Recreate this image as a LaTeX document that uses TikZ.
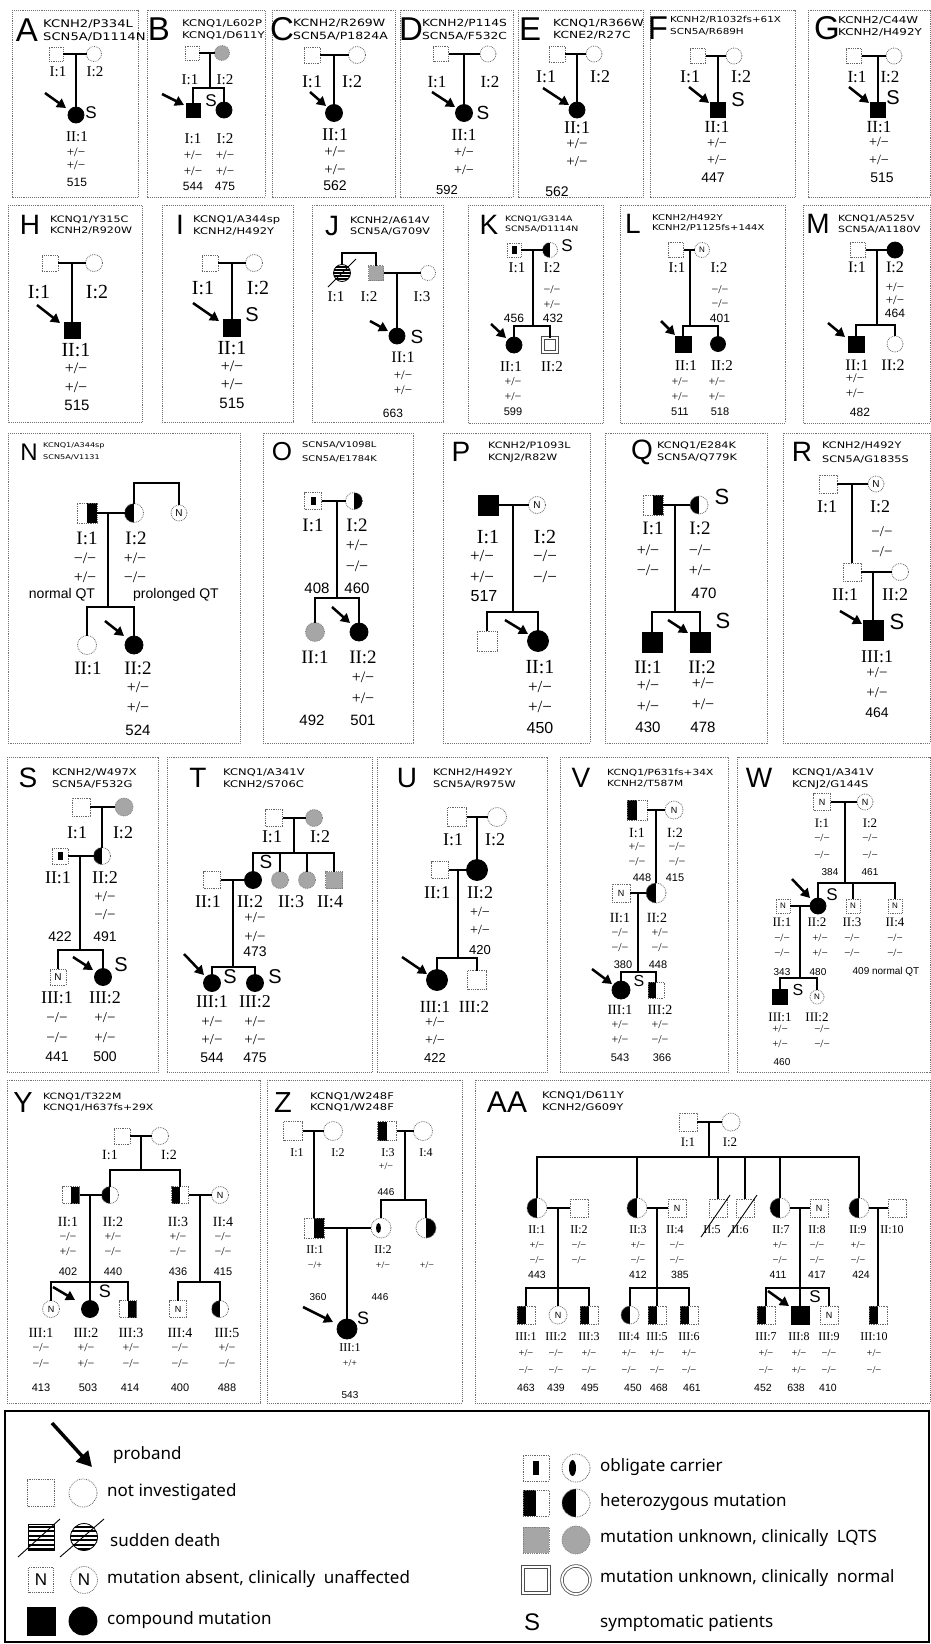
\documentclass[tikz,border=0pt]{standalone}
\usepackage{graphicx}
\usepackage{fontspec}
\setmainfont{Liberation Serif}
\newfontfamily\sfn{Liberation Sans}
\newfontfamily\gfn{DejaVu Sans}
\newfontfamily\lgf{Noto Sans}
\usetikzlibrary{arrows.meta,calc}
\newcount\txc
\newcommand\gsc[1]{\scalebox{1.25}[1]{#1}}
\newcommand\pTx[5]{\global\advance\txc by 1\relax\node[inner sep=0pt,font=#3\fontsize{#4}{#4}\selectfont] (t\the\txc) at (#1,#2) {#5};}
\newcommand\pLb[4]{\pTx{#1}{#2}{\rmfamily}{#3}{#4}}
\newcommand\pNb[4]{\pTx{#1}{#2}{\sfn}{#3}{#4}}
\newcommand\pLt[4]{\node[inner sep=0pt,font=\sfn\fontsize{#3}{#3}\selectfont] (L#4) at (#1,#2) {#4};}
\newcommand\pGn[6]{\global\advance\txc by 1\relax\node[anchor=base west,inner sep=0pt,font=\gfn\fontsize{#3}{#3}\selectfont] (t\the\txc) at (#1,#2-#4/2+0.36*#3) {\gsc{#5}};\global\advance\txc by 1\relax\node[anchor=base west,inner sep=0pt,font=\gfn\fontsize{#3}{#3}\selectfont] (t\the\txc) at (#1,#2+#4/2+0.36*#3) {\gsc{#6}};}
\newcommand\pLg[3]{\global\advance\txc by 1\relax\node[anchor=west,inner sep=0pt,font=\lgf\fontsize{17}{17}\selectfont] (t\the\txc) at (#1,#2) {#3};}
\newcommand\pArr[5]{\draw[prob] (#1) ++(#2,#3) -- ++(#4,#5);}
\newcommand\gPM{+/−}\newcommand\gMM{−/−}\newcommand\gMP{−/+}\newcommand\gPP{+/+}
\tikzset{
  lnk/.style={line width=1.6pt},
  bx/.style={draw=black!55, densely dotted, line width=0.9pt},
  sqr/.style={rectangle, minimum size=#1, inner sep=0pt, outer sep=0pt},
  cir/.style={circle, minimum size=#1, inner sep=0pt, outer sep=0pt},
  ni/.style={draw=black!60, densely dotted, line width=0.8pt},
  cmpd/.style={draw=black, fill=black, line width=0.8pt},
  lqt/.style={draw=black!50, densely dotted, line width=0.8pt, fill=black!35},
  hL/.style={ni, path picture={\fill[black] (path picture bounding box.south west) rectangle (path picture bounding box.north);}},
  hR/.style={ni, path picture={\fill[black] (path picture bounding box.south) rectangle (path picture bounding box.north east);}},
  obS/.style={ni, path picture={\fill[black] ([xshift=-2.5pt,yshift=-4pt]path picture bounding box.center) rectangle ([xshift=2.5pt,yshift=4pt]path picture bounding box.center);}},
  obSb/.style={ni, path picture={\fill[black] ([xshift=-3pt,yshift=-7pt]path picture bounding box.center) rectangle ([xshift=3pt,yshift=7pt]path picture bounding box.center);}},
  obC/.style={ni, path picture={\fill[black] ([xshift=-2.5pt]path picture bounding box.center) ellipse [x radius=2.5pt, y radius=5pt];}},
  obCb/.style={ni, path picture={\fill[black] ([xshift=-3.5pt]path picture bounding box.center) ellipse [x radius=3.5pt, y radius=8pt];}},
  nn/.style={ni, font=\sfn\fontsize{#1}{#1}\selectfont},
  nn/.default=10,
  dbl/.style={draw=black!70, line width=0.8pt, double=white, double distance=1.8pt},
  sdeath/.style={draw=black, line width=0.8pt, path picture={\foreach \k in {-9,-6,...,9}{\draw[line width=1.1pt] ([yshift=\k pt]path picture bounding box.west) -- ([yshift=\k pt]path picture bounding box.east);}}},
  sdeathb/.style={draw=black, line width=0.8pt, path picture={\foreach \k in {-12,-7.5,...,12}{\draw[line width=2pt] ([yshift=\k pt]path picture bounding box.west) -- ([yshift=\k pt]path picture bounding box.east);}}},
  prob/.style={line width=2.5pt, -{Triangle[length=9pt,width=10pt]}},
}
\begin{document}
\begin{tikzpicture}[x=1pt,y=-1pt]
\useasboundingbox (0,0) rectangle (931,1644);
\fill[white] (0,0) rectangle (931,1644);
% ================= A
\draw[bx] (12,10) rectangle (138,197);
\pLt{27}{30}{33}{A}
\pGn{43}{30}{10.5}{12.5}{KCNH2/P334L}{SCN5A/D1114N}
\node[sqr=14,ni] (A1) at (56,54) {};
\node[cir=15,ni] (A2) at (94,54) {};
\coordinate (Am) at (76,54);
\node[cir=16,cmpd] (A3) at (76,115) {};
\draw[lnk] (A1) -- (A2); \draw[lnk] (Am) -- (A3);
\pArr{A3}{-31}{-22}{21}{15}
\pNb{91}{113}{17}{S}
\pLb{58}{72}{15}{I:1}\pLb{95}{72}{15}{I:2}\pLb{77}{137}{15}{II:1}
\pLb{76}{152}{13}{\gPM}\pLb{76}{165}{13}{\gPM}\pNb{77}{182}{12}{515}
% ================= B
\draw[bx] (147,10) rectangle (265,197);
\pLt{159}{29}{33}{B}
\pGn{182}{29}{9.3}{11.5}{KCNQ1/L602P}{KCNQ1/D611Y}
\node[sqr=14,ni] (B1) at (192,53) {};
\node[cir=15,lqt] (B2) at (222,53) {};
\coordinate (Bm) at (210,53); \coordinate (Bb) at (210,88);
\node[sqr=14,cmpd] (B3) at (193,110) {};
\node[cir=16,cmpd] (B4) at (224,110) {};
\draw[lnk] (B1) -- (B2); \draw[lnk] (Bm) -- (Bb);
\draw[lnk] (B3) -- (B3|-Bb) -- (B4|-Bb) -- (B4);
\pArr{B3}{-31}{-16}{22}{11}
\pNb{211}{101}{17}{S}
\pLb{190}{80}{15}{I:1}\pLb{225}{80}{15}{I:2}
\pLb{193}{139}{15}{I:1}\pLb{225}{139}{15}{I:2}
\pLb{193}{155}{13}{\gPM}\pLb{193}{171}{13}{\gPM}\pLb{225}{155}{13}{\gPM}\pLb{225}{171}{13}{\gPM}
\pNb{193}{186}{12}{544}\pNb{225}{186}{12}{475}
% ================= C
\draw[bx] (272,10) rectangle (395,197);
\pLt{282}{29}{33}{C}
\pGn{293}{29}{10}{13}{KCNH2/R269W}{SCN5A/P1824A}
\node[sqr=16,ni] (C1) at (312,55) {};
\node[cir=17,ni] (C2) at (357,55) {};
\coordinate (Cm) at (334,55);
\node[cir=17,cmpd] (C3) at (334,113) {};
\draw[lnk] (C1) -- (C2); \draw[lnk] (Cm) -- (C3);
\pArr{C3}{-24}{-21}{16}{14}
\pLb{312}{82}{18}{I:1}\pLb{352}{82}{18}{I:2}\pLb{335}{135}{18}{II:1}
\pLb{335}{152}{15}{\gPM}\pLb{335}{170}{15}{\gPM}\pNb{335}{186}{14}{562}
% ================= D
\draw[bx] (400,10) rectangle (513,197);
\pLt{411}{29}{33}{D}
\pGn{422}{29}{9.8}{13}{KCNH2/P114S}{SCN5A/F532C}
\node[sqr=15,ni] (D1) at (441,54) {};
\node[cir=16,ni] (D2) at (488,54) {};
\coordinate (Dm) at (464,54);
\node[cir=17,cmpd] (D3) at (464,113) {};
\draw[lnk] (D1) -- (D2); \draw[lnk] (Dm) -- (D3);
\pArr{D3}{-32}{-21}{23}{15}
\pNb{483}{113}{19}{S}
\pLb{437}{82}{17}{I:1}\pLb{490}{82}{17}{I:2}\pLb{464}{135}{17}{II:1}
\pLb{464}{152}{14}{\gPM}\pLb{464}{170}{14}{\gPM}\pNb{447}{190}{13}{592}
% ================= E
\draw[bx] (518,10) rectangle (643,197);
\pLt{530}{29}{33}{E}
\pGn{553}{29}{9.8}{12.5}{KCNQ1/R366W}{KCNE2/R27C}
\node[sqr=16,ni] (E1) at (557,54) {};
\node[cir=16,ni] (E2) at (594,54) {};
\coordinate (Em) at (577,54);
\node[cir=16,cmpd] (E3) at (577,110) {};
\draw[lnk] (E1) -- (E2); \draw[lnk] (Em) -- (E3);
\pArr{E3}{-34}{-22}{26}{17}
\pLb{546}{77}{18}{I:1}\pLb{600}{77}{18}{I:2}\pLb{577}{128}{18}{II:1}
\pLb{577}{144}{15}{\gPM}\pLb{577}{162}{15}{\gPM}\pNb{557}{192}{14}{562}
% ================= F
\draw[bx] (650,10) rectangle (795,197);
\pLt{658}{28}{33}{F}
\pGn{670}{26}{8.3}{12}{KCNH2/R1032fs+61X}{SCN5A/R689H}
\node[sqr=15,ni] (F1) at (698,56) {};
\node[cir=16,ni] (F2) at (734,56) {};
\coordinate (Fm) at (718,56);
\node[sqr=15,cmpd] (F3) at (718,110) {};
\draw[lnk] (F1) -- (F2); \draw[lnk] (Fm) -- (F3);
\pArr{F3}{-29}{-23}{20}{16}
\pNb{738}{100}{20}{S}
\pLb{690}{77}{18}{I:1}\pLb{741}{77}{18}{I:2}\pLb{717}{127}{17}{II:1}
\pLb{717}{143}{14}{\gPM}\pLb{717}{160}{14}{\gPM}\pNb{713}{178}{14}{447}
% ================= G
\draw[bx] (808,10) rectangle (930,197);
\pLt{827}{28}{33}{G}
\pGn{838}{26}{9.5}{12}{KCNH2/C44W}{KCNH2/H492Y}
\node[sqr=15,ni] (G1) at (854,56) {};
\node[cir=16,ni] (G2) at (894,56) {};
\coordinate (Gm) at (878,56);
\node[sqr=15,cmpd] (G3) at (878,110) {};
\draw[lnk] (G1) -- (G2); \draw[lnk] (Gm) -- (G3);
\pArr{G3}{-29}{-23}{20}{16}
\pNb{893}{98}{20}{S}
\pLb{857}{77}{17}{I:1}\pLb{890}{77}{17}{I:2}\pLb{879}{127}{17}{II:1}
\pLb{879}{142}{14}{\gPM}\pLb{879}{160}{14}{\gPM}\pNb{882}{178}{14}{515}
% ================= H
\draw[bx] (8,205) rectangle (142,422);
\pLt{30}{225}{28}{H}
\pGn{50}{225}{8.9}{11.2}{KCNQ1/Y315C}{KCNH2/R920W}
\node[sqr=16,ni] (H1) at (50,263) {};
\node[cir=17,ni] (H2) at (94,263) {};
\coordinate (Hm) at (72,263);
\node[sqr=16,cmpd] (H3) at (72,330) {};
\draw[lnk] (H1) -- (H2); \draw[lnk] (Hm) -- (H3);
\pArr{H3}{-35}{-25}{23}{18}
\pLb{39}{292}{20}{I:1}\pLb{97}{292}{20}{I:2}\pLb{76}{350}{20}{II:1}
\pLb{76}{368}{16}{\gPM}\pLb{76}{387}{16}{\gPM}\pNb{77}{405}{15}{515}
% ================= I
\draw[bx] (162,205) rectangle (293,422);
\pLt{180}{225}{28}{I}
\pGn{193}{225}{9.2}{11.5}{KCNQ1/A344sp}{KCNH2/H492Y}
\node[sqr=16,ni] (I1) at (210,263) {};
\node[cir=17,ni] (I2) at (254,263) {};
\coordinate (Im) at (232,263);
\node[sqr=17,cmpd] (I3) at (232,328) {};
\draw[lnk] (I1) -- (I2); \draw[lnk] (Im) -- (I3);
\pArr{I3}{-39}{-25}{26}{18}
\pNb{252}{315}{20}{S}
\pLb{203}{288}{20}{I:1}\pLb{258}{288}{20}{I:2}\pLb{232}{348}{20}{II:1}
\pLb{232}{366}{16}{\gPM}\pLb{232}{384}{16}{\gPM}\pNb{232}{403}{15}{515}
% ================= J
\draw[bx] (312,205) rectangle (443,422);
\pLt{332}{226}{28}{J}
\pGn{350}{226}{9}{11.2}{KCNH2/A614V}{SCN5A/G709V}
\node[cir=17,sdeath] (J1) at (342,273) {};
\node[sqr=15,lqt] (J2) at (376,273) {};
\node[cir=15,ni] (J3) at (428,273) {};
\coordinate (Jt) at (360,253);
\draw[lnk] (J1) -- (J1|-Jt) -- (J2|-Jt) -- (J2);
\draw[lnk] (J2) -- (J3);
\coordinate (Jm) at (397,273);
\node[cir=16,cmpd] (J4) at (397,336) {};
\draw[lnk] (Jm) -- (J4);
\draw[line width=0.8pt] (J1) ++(-14,14) -- ++(28,-28);
\pArr{J4}{-27}{-15}{18}{10}
\pNb{417}{337}{19}{S}
\pLb{336}{297}{15}{I:1}\pLb{369}{297}{15}{I:2}\pLb{422}{297}{15}{I:3}\pLb{403}{357}{16}{II:1}
\pLb{403}{375}{13}{\gPM}\pLb{403}{390}{13}{\gPM}\pNb{393}{413}{12}{663}
% ================= K
\draw[bx] (468,205) rectangle (603,423);
\pLt{489}{225}{28}{K}
\pGn{505}{224}{7.5}{10}{KCNQ1/G314A}{SCN5A/D1114N}
\node[sqr=14,obS] (K1) at (514,250) {};
\node[cir=15,hL] (K2) at (550,250) {};
\coordinate (Km) at (533,250); \coordinate (Kb) at (533,326);
\node[cir=16,cmpd] (K3) at (514,345) {};
\node[sqr=14,dbl] (K4) at (550,345) {};
\draw[lnk] (K1) -- (K2); \draw[lnk] (Km) -- (Kb);
\draw[lnk] (K3) -- (K3|-Kb) -- (K4|-Kb) -- (K4);
\pArr{K3}{-23}{-21}{15}{14}
\pNb{567}{246}{17}{S}
\pLb{517}{268}{15}{I:1}\pLb{552}{268}{15}{I:2}
\pLb{552}{290}{12}{\gMM}\pLb{552}{305}{12}{\gPM}
\pNb{514}{318}{12}{456}\pNb{553}{318}{12}{432}
\pLb{511}{367}{15}{II:1}\pLb{552}{367}{15}{II:2}
\pLb{513}{382}{12}{\gPM}\pLb{513}{397}{12}{\gPM}\pNb{513}{412}{11}{599}
% ================= L
\draw[bx] (620,205) rectangle (785,423);
\pLt{633}{224}{28}{L}
\pGn{652}{223}{8}{10.2}{KCNH2/H492Y}{KCNH2/P1125fs+144X}
\node[sqr=15,ni] (L1) at (676,250) {};
\node[cir=15,nn=8] (L2) at (702,250) {N};
\coordinate (Lm) at (690,250); \coordinate (Lb) at (690,326);
\node[sqr=16,cmpd] (L3) at (683,344) {};
\node[cir=15,cmpd] (L4) at (718,344) {};
\draw[lnk] (L1) -- (L2); \draw[lnk] (Lm) -- (Lb);
\draw[lnk] (L3) -- (L3|-Lb) -- (L4|-Lb) -- (L4);
\pArr{L3}{-22}{-23}{14}{14}
\pLb{677}{268}{15}{I:1}\pLb{719}{268}{15}{I:2}
\pLb{720}{290}{12}{\gMM}\pLb{720}{304}{12}{\gMM}\pNb{720}{318}{12}{401}
\pLb{686}{366}{15}{II:1}\pLb{722}{366}{15}{II:2}
\pLb{680}{382}{12}{\gPM}\pLb{680}{397}{12}{\gPM}\pLb{717}{382}{12}{\gPM}\pLb{717}{397}{12}{\gPM}
\pNb{680}{412}{11}{511}\pNb{720}{412}{11}{518}
% ================= M
\draw[bx] (803,205) rectangle (930,423);
\pLt{818}{224}{28}{M}
\pGn{838}{224}{8.6}{10.8}{KCNQ1/A525V}{SCN5A/A1180V}
\node[sqr=15,ni] (M1) at (858,250) {};
\node[cir=16,cmpd] (M2) at (895,250) {};
\coordinate (Mm) at (877,250); \coordinate (Mb) at (877,325);
\node[sqr=16,cmpd] (M3) at (856,344) {};
\node[cir=16,ni] (M4) at (895,344) {};
\draw[lnk] (M1) -- (M2); \draw[lnk] (Mm) -- (Mb);
\draw[lnk] (M3) -- (M3|-Mb) -- (M4|-Mb) -- (M4);
\pArr{M3}{-28}{-21}{17}{14}
\pLb{857}{267}{16}{I:1}\pLb{895}{267}{16}{I:2}
\pLb{895}{287}{13}{\gPM}\pLb{895}{300}{13}{\gPM}\pNb{895}{313}{12}{464}
\pLb{857}{365}{16}{II:1}\pLb{893}{365}{16}{II:2}
\pLb{855}{378}{13}{\gPM}\pLb{855}{393}{13}{\gPM}\pNb{860}{412}{12}{482}
% ================= N
\draw[bx] (8,433) rectangle (240,743);
\pLt{29}{452}{24}{N}
\pGn{43}{451}{6.5}{11.5}{KCNQ1/A344sp}{SCN5A/V1131}
\node[sqr=20,hR] (N1) at (87,513) {};
\node[cir=19,hL] (N2) at (134,513) {};
\node[cir=16,nn=10] (N3) at (179,513) {N};
\coordinate (Nt) at (150,483);
\draw[lnk] (N2) -- (N2|-Nt) -- (N3|-Nt) -- (N3);
\draw[lnk] (N1) -- (N2);
\coordinate (Nm) at (108,513); \coordinate (Nb) at (108,607);
\draw[lnk] (Nm) -- (Nb);
\node[cir=19,ni] (N4) at (87,645) {};
\node[cir=18,cmpd] (N5) at (134,645) {};
\draw[lnk] (N4) -- (N4|-Nb) -- (N5|-Nb) -- (N5);
\pArr{N5}{-29}{-24}{19}{15}
\pLb{87}{538}{19}{I:1}\pLb{136}{538}{19}{I:2}
\pLb{85}{558}{16}{\gMM}\pLb{85}{577}{16}{\gPM}\pLb{135}{558}{16}{\gPM}\pLb{135}{577}{16}{\gMM}
\pNb{62}{595}{14}{normal QT}\pNb{176}{595}{14}{prolonged QT}
\pLb{88}{668}{19}{II:1}\pLb{138}{668}{19}{II:2}
\pLb{138}{687}{16}{\gPM}\pLb{138}{707}{16}{\gPM}\pNb{138}{730}{15}{524}
% ================= O
\draw[bx] (263,433) rectangle (413,743);
\pLt{282}{452}{26}{O}
\pGn{302}{452}{7.9}{14}{SCN5A/V1098L}{SCN5A/E1784K}
\node[sqr=17,obS] (O1) at (313,501) {};
\node[cir=17,hR] (O2) at (354,501) {};
\coordinate (Om) at (337,501); \coordinate (Ob) at (337,598);
\node[cir=19,lqt] (O3) at (315,632) {};
\node[cir=18,cmpd] (O4) at (359,632) {};
\draw[lnk] (O1) -- (O2); \draw[lnk] (Om) -- (Ob);
\draw[lnk] (O3) -- (O3|-Ob) -- (O4|-Ob) -- (O4);
\pArr{O4}{-27}{-25}{18}{16}
\pLb{313}{525}{19}{I:1}\pLb{357}{525}{19}{I:2}
\pLb{357}{545}{16}{\gPM}\pLb{357}{566}{16}{\gMM}
\pNb{317}{588}{15}{408}\pNb{357}{588}{15}{460}
\pLb{315}{657}{19}{II:1}\pLb{363}{657}{19}{II:2}
\pLb{363}{677}{16}{\gPM}\pLb{363}{698}{16}{\gPM}
\pNb{312}{720}{15}{492}\pNb{363}{720}{15}{501}
% ================= P
\draw[bx] (443,433) rectangle (590,743);
\pLt{461}{452}{28}{P}
\pGn{488}{451}{8.8}{12}{KCNH2/P1093L}{KCNJ2/R82W}
\node[sqr=20,cmpd] (P1) at (488,505) {};
\node[cir=17,nn=10] (P2) at (537,505) {N};
\coordinate (Pm) at (513,505); \coordinate (Pb) at (513,612);
\node[sqr=20,ni] (P3) at (487,641) {};
\node[cir=21,cmpd] (P4) at (538,641) {};
\draw[lnk] (P1) -- (P2); \draw[lnk] (Pm) -- (Pb);
\draw[lnk] (P3) -- (P3|-Pb) -- (P4|-Pb) -- (P4);
\pArr{P4}{-33}{-21}{23}{14}
\pLb{488}{537}{20}{I:1}\pLb{545}{537}{20}{I:2}
\pLb{482}{556}{17}{\gPM}\pLb{482}{577}{17}{\gPM}\pLb{545}{556}{17}{\gMM}\pLb{545}{577}{17}{\gMM}
\pNb{484}{596}{16}{517}
\pLb{540}{667}{20}{II:1}\pLb{540}{687}{17}{\gPM}\pLb{540}{707}{17}{\gPM}\pNb{540}{728}{16}{450}
% ================= Q
\draw[bx] (605,433) rectangle (767,743);
\pLt{642}{452}{28}{Q}
\pGn{657}{451}{9}{12}{KCNQ1/E284K}{SCN5A/Q779K}
\node[sqr=20,hR] (Q1) at (653,505) {};
\node[cir=18,hL] (Q2) at (699,505) {};
\coordinate (Qm) at (675,505); \coordinate (Qb) at (675,612);
\node[sqr=20,cmpd] (Q3) at (652,642) {};
\node[sqr=20,cmpd] (Q4) at (700,642) {};
\draw[lnk] (Q1) -- (Q2); \draw[lnk] (Qm) -- (Qb);
\draw[lnk] (Q3) -- (Q3|-Qb) -- (Q4|-Qb) -- (Q4);
\pArr{Q4}{-32}{-22}{20}{13}
\pNb{722}{497}{22}{S}\pNb{723}{621}{22}{S}
\pLb{653}{528}{19}{I:1}\pLb{700}{528}{19}{I:2}
\pLb{648}{550}{16}{\gPM}\pLb{648}{570}{16}{\gMM}\pLb{700}{550}{16}{\gMM}\pLb{700}{570}{16}{\gPM}
\pNb{704}{593}{15}{470}
\pLb{648}{667}{19}{II:1}\pLb{702}{667}{19}{II:2}
\pLb{648}{685}{16}{\gPM}\pLb{648}{706}{16}{\gPM}\pLb{703}{683}{16}{\gPM}\pLb{703}{704}{16}{\gPM}
\pNb{648}{727}{15}{430}\pNb{703}{727}{15}{478}
% ================= R
\draw[bx] (783,433) rectangle (930,743);
\pLt{802}{452}{28}{R}
\pGn{822}{452}{9}{14}{KCNH2/H492Y}{SCN5A/G1835S}
\node[sqr=18,ni] (R1) at (828,484) {};
\node[cir=16,nn=10] (R2) at (876,484) {N};
\coordinate (Rm) at (852,484);
\node[sqr=18,ni] (R3) at (852,572) {};
\node[cir=17,ni] (R4) at (900,572) {};
\coordinate (Rn) at (873,572);
\node[sqr=20,cmpd] (R5) at (873,630) {};
\draw[lnk] (R1) -- (R2); \draw[lnk] (Rm) -- (R3);
\draw[lnk] (R3) -- (R4); \draw[lnk] (Rn) -- (R5);
\pArr{R5}{-33}{-19}{22}{13}
\pNb{897}{622}{22}{S}
\pLb{827}{507}{18}{I:1}\pLb{880}{507}{18}{I:2}
\pLb{882}{532}{15}{\gMM}\pLb{882}{552}{15}{\gMM}
\pLb{845}{595}{18}{II:1}\pLb{895}{595}{18}{II:2}
\pLb{877}{657}{18}{III:1}\pLb{877}{673}{15}{\gPM}\pLb{877}{693}{15}{\gPM}\pNb{877}{713}{14}{464}
% ================= S
\draw[bx] (7,757) rectangle (158,1072);
\pLt{28}{778}{28}{S}
\pGn{52}{778}{9.2}{11.5}{KCNH2/W497X}{SCN5A/F532G}
\node[sqr=18,ni] (S1) at (81,807) {};
\node[cir=18,lqt] (S2) at (124,807) {};
\coordinate (Sm) at (102,807);
\node[sqr=16,obS] (S3) at (60,856) {};
\node[cir=17,hL] (S4) at (102,856) {};
\coordinate (Sn) at (80,856); \coordinate (Sb) at (80,950);
\node[sqr=16,nn=10] (S5) at (58,977) {N};
\node[cir=17,cmpd] (S6) at (103,977) {};
\draw[lnk] (S1) -- (S2); \draw[lnk] (Sm) -- (S4); \draw[lnk] (S3) -- (S4);
\draw[lnk] (Sn) -- (Sb); \draw[lnk] (S5) -- (S5|-Sb) -- (S6|-Sb) -- (S6);
\pArr{S6}{-30}{-20}{20}{13}
\pNb{121}{965}{20}{S}
\pLb{77}{833}{18}{I:1}\pLb{123}{833}{18}{I:2}
\pLb{58}{878}{18}{II:1}\pLb{105}{878}{18}{II:2}
\pLb{105}{897}{15}{\gPM}\pLb{105}{915}{15}{\gMM}
\pNb{60}{937}{14}{422}\pNb{105}{937}{14}{491}
\pLb{57}{998}{18}{III:1}\pLb{105}{998}{18}{III:2}
\pLb{57}{1018}{15}{\gMM}\pLb{57}{1038}{15}{\gMM}\pLb{105}{1018}{15}{\gPM}\pLb{105}{1038}{15}{\gPM}
\pNb{57}{1057}{14}{441}\pNb{105}{1057}{14}{500}
% ================= T
\draw[bx] (167,757) rectangle (372,1072);
\pLt{198}{778}{28}{T}
\pGn{223}{778}{9.2}{11.5}{KCNQ1/A341V}{KCNH2/S706C}
\node[sqr=17,ni] (T1) at (274,818) {};
\node[cir=17,lqt] (T2) at (314,818) {};
\coordinate (Tm) at (294,818); \coordinate (Tb) at (294,853);
\node[sqr=17,ni] (T3) at (212,880) {};
\node[cir=17,cmpd] (T4) at (253,880) {};
\node[cir=17,lqt] (T5) at (280,880) {};
\node[cir=17,lqt] (T6) at (307,880) {};
\node[sqr=17,lqt] (T7) at (334,880) {};
\coordinate (Tn) at (233,880); \coordinate (Tc) at (233,967);
\node[cir=17,cmpd] (T8) at (212,983) {};
\node[cir=17,cmpd] (T9) at (255,983) {};
\draw[lnk] (T1) -- (T2); \draw[lnk] (Tm) -- (Tb);
\draw[lnk] (T4) -- (T4|-Tb) -- (T7|-Tb) -- (T7);
\draw[lnk] (T5) -- (T5|-Tb); \draw[lnk] (T6) -- (T6|-Tb);
\draw[lnk] (T3) -- (T4); \draw[lnk] (Tn) -- (Tc);
\draw[lnk] (T8) -- (T8|-Tc) -- (T9|-Tc) -- (T9);
\pArr{T8}{-28}{-29}{20}{21}
\pNb{266}{862}{19}{S}\pNb{230}{977}{20}{S}\pNb{275}{977}{20}{S}
\pLb{272}{837}{18}{I:1}\pLb{320}{837}{18}{I:2}
\pLb{208}{902}{18}{II:1}\pLb{250}{902}{18}{II:2}\pLb{291}{902}{18}{II:3}\pLb{330}{902}{18}{II:4}
\pLb{255}{918}{15}{\gPM}\pLb{255}{937}{15}{\gPM}\pNb{255}{952}{14}{473}
\pLb{212}{1002}{18}{III:1}\pLb{255}{1002}{18}{III:2}
\pLb{212}{1022}{15}{\gPM}\pLb{212}{1040}{15}{\gPM}\pLb{255}{1022}{15}{\gPM}\pLb{255}{1040}{15}{\gPM}
\pNb{212}{1058}{14}{544}\pNb{255}{1058}{14}{475}
% ================= U
\draw[bx] (377,757) rectangle (547,1072);
\pLt{407}{778}{28}{U}
\pGn{433}{778}{9}{11.5}{KCNH2/H492Y}{SCN5A/R975W}
\node[sqr=19,ni] (U1) at (457,817) {};
\node[cir=19,ni] (U2) at (497,817) {};
\coordinate (Um) at (477,817);
\node[sqr=17,ni] (U3) at (440,870) {};
\node[cir=21,cmpd] (U4) at (477,870) {};
\coordinate (Un) at (458,870); \coordinate (Ub) at (458,958);
\node[cir=21,cmpd] (U5) at (437,980) {};
\node[sqr=19,ni] (U6) at (477,980) {};
\draw[lnk] (U1) -- (U2); \draw[lnk] (Um) -- (U4); \draw[lnk] (U3) -- (U4);
\draw[lnk] (Un) -- (Ub); \draw[lnk] (U5) -- (U5|-Ub) -- (U6|-Ub) -- (U6);
\pArr{U5}{-35}{-23}{25}{17}
\pLb{453}{840}{18}{I:1}\pLb{495}{840}{18}{I:2}
\pLb{437}{893}{18}{II:1}\pLb{480}{893}{18}{II:2}
\pLb{480}{912}{14}{\gPM}\pLb{480}{930}{14}{\gPM}\pNb{480}{950}{13}{420}
\pLb{435}{1007}{17}{III:1}\pLb{474}{1007}{17}{III:2}
\pLb{435}{1022}{14}{\gPM}\pLb{435}{1040}{14}{\gPM}\pNb{435}{1058}{13}{422}
% ================= V
\draw[bx] (560,757) rectangle (728,1072);
\pLt{581}{778}{28}{V}
\pGn{607}{778}{8.5}{11.5}{KCNQ1/P631fs+34X}{KCNH2/T587M}
\node[sqr=20,hL] (V1) at (637,810) {};
\node[cir=18,nn=9] (V2) at (674,810) {N};
\coordinate (Vm) at (656,810);
\node[sqr=18,nn=9] (V3) at (621,893) {N};
\node[cir=20,hL] (V4) at (656,893) {};
\coordinate (Vn) at (638,893); \coordinate (Vb) at (638,972);
\node[cir=18,cmpd] (V5) at (621,990) {};
\node[sqr=16,hL] (V6) at (656,990) {};
\draw[lnk] (V1) -- (V2); \draw[lnk] (Vm) -- (V4); \draw[lnk] (V3) -- (V4);
\draw[lnk] (Vn) -- (Vb); \draw[lnk] (V5) -- (V5|-Vb) -- (V6|-Vb) -- (V6);
\pArr{V5}{-29}{-21}{20}{15}
\pNb{639}{981}{16}{S}
\pLb{637}{833}{14}{I:1}\pLb{675}{833}{14}{I:2}
\pLb{637}{847}{12}{\gPM}\pLb{637}{862}{12}{\gMM}\pLb{677}{847}{12}{\gMM}\pLb{677}{862}{12}{\gMM}
\pNb{642}{878}{11}{448}\pNb{675}{878}{11}{415}
\pLb{620}{918}{14}{II:1}\pLb{657}{918}{14}{II:2}
\pLb{620}{933}{12}{\gMM}\pLb{620}{948}{12}{\gMM}\pLb{660}{933}{12}{\gPM}\pLb{660}{948}{12}{\gMM}
\pNb{623}{965}{11}{380}\pNb{658}{965}{11}{448}
\pLb{620}{1010}{14}{III:1}\pLb{660}{1010}{14}{III:2}
\pLb{620}{1025}{12}{\gPM}\pLb{620}{1040}{12}{\gPM}\pLb{660}{1025}{12}{\gPM}\pLb{660}{1040}{12}{\gMM}
\pNb{620}{1058}{11}{543}\pNb{662}{1058}{11}{366}
% ================= W
\draw[bx] (737,757) rectangle (930,1072);
\pLt{759}{778}{28}{W}
\pGn{792}{778}{9.2}{11.5}{KCNQ1/A341V}{KCNJ2/G144S}
\node[sqr=17,nn=9] (W1) at (822,802) {N};
\node[cir=16,nn=9] (W2) at (865,802) {N};
\coordinate (Wm) at (845,802); \coordinate (Wb) at (845,883);
\node[sqr=14,nn=8] (W3) at (783,906) {N};
\node[cir=16,cmpd] (W4) at (818,906) {};
\node[sqr=14,nn=8] (W5) at (853,906) {N};
\node[sqr=14,nn=8] (W6) at (895,906) {N};
\coordinate (Wn) at (800,906); \coordinate (Wc) at (800,978);
\node[sqr=15,cmpd] (W7) at (780,997) {};
\node[cir=14,nn=8] (W8) at (817,997) {N};
\draw[lnk] (W1) -- (W2); \draw[lnk] (Wm) -- (Wb);
\draw[lnk] (W4) -- (W4|-Wb) -- (W6|-Wb) -- (W6); \draw[lnk] (W5) -- (W5|-Wb);
\draw[lnk] (W3) -- (W4); \draw[lnk] (Wn) -- (Wc);
\draw[lnk] (W7) -- (W7|-Wc) -- (W8|-Wc) -- (W8);
\pArr{W4}{-26}{-27}{18}{19}
\pNb{832}{895}{17}{S}\pNb{798}{990}{16}{S}
\pLb{822}{823}{13}{I:1}\pLb{870}{823}{13}{I:2}
\pLb{822}{838}{11}{\gMM}\pLb{822}{855}{11}{\gMM}\pLb{870}{838}{11}{\gMM}\pLb{870}{855}{11}{\gMM}
\pNb{830}{872}{10}{384}\pNb{870}{872}{10}{461}
\pLb{782}{922}{13}{II:1}\pLb{817}{922}{13}{II:2}\pLb{852}{922}{13}{II:3}\pLb{895}{922}{13}{II:4}
\pLb{782}{938}{11}{\gMM}\pLb{782}{953}{11}{\gMM}\pLb{820}{938}{11}{\gPM}\pLb{820}{953}{11}{\gPM}
\pLb{852}{938}{11}{\gMM}\pLb{852}{953}{11}{\gMM}\pLb{895}{938}{11}{\gMM}\pLb{895}{953}{11}{\gMM}
\pNb{782}{972}{10}{343}\pNb{818}{972}{10}{480}\pNb{886}{972}{10}{409 normal QT}
\pLb{780}{1017}{13}{III:1}\pLb{817}{1017}{13}{III:2}
\pLb{780}{1029}{11}{\gPM}\pLb{780}{1044}{11}{\gPM}\pLb{822}{1029}{11}{\gMM}\pLb{822}{1044}{11}{\gMM}
\pNb{782}{1062}{10}{460}
% ================= Y
\draw[bx] (7,1080) rectangle (260,1403);
\pLt{23}{1103}{29}{Y}
\pGn{43}{1102}{8.7}{11}{KCNQ1/T322M}{KCNQ1/H637fs+29X}
\node[sqr=16,ni] (Y1) at (122,1136) {};
\node[cir=17,ni] (Y2) at (160,1136) {};
\coordinate (Ym) at (141,1136); \coordinate (Yb) at (141,1170);
\node[sqr=17,hR] (Y3) at (71,1195) {};
\node[cir=17,hL] (Y4) at (110,1195) {};
\node[sqr=17,hL] (Y5) at (180,1195) {};
\node[cir=17,nn=9] (Y6) at (220,1195) {N};
\coordinate (Yn) at (90,1195); \coordinate (Yo) at (200,1195);
\coordinate (Yc) at (90,1282); \coordinate (Yd) at (200,1282);
\node[cir=17,nn=9] (Y7) at (51,1309) {N};
\node[cir=17,cmpd] (Y8) at (90,1309) {};
\node[sqr=17,hR] (Y9) at (128,1309) {};
\node[sqr=17,nn=9] (Y10) at (178,1309) {N};
\node[cir=17,hL] (Y11) at (220,1309) {};
\draw[lnk] (Y1) -- (Y2); \draw[lnk] (Ym) -- (Yb);
\draw[lnk] (Y4) -- (Y4|-Yb) -- (Y5|-Yb) -- (Y5);
\draw[lnk] (Y3) -- (Y4); \draw[lnk] (Y5) -- (Y6);
\draw[lnk] (Yn) -- (Yc); \draw[lnk] (Y7) -- (Y7|-Yc) -- (Y9|-Yc) -- (Y9); \draw[lnk] (Y8) -- (Y8|-Yc);
\draw[lnk] (Yo) -- (Yd); \draw[lnk] (Y10) -- (Y10|-Yd) -- (Y11|-Yd) -- (Y11);
\pArr{Y8}{-37}{-22}{22}{13}
\pNb{105}{1291}{18}{S}
\pLb{110}{1155}{14}{I:1}\pLb{169}{1155}{14}{I:2}
\pLb{68}{1222}{14}{II:1}\pLb{113}{1222}{14}{II:2}\pLb{178}{1222}{14}{II:3}\pLb{223}{1222}{14}{II:4}
\pLb{68}{1237}{12}{\gMM}\pLb{68}{1252}{12}{\gPM}\pLb{113}{1237}{12}{\gPM}\pLb{113}{1252}{12}{\gMM}
\pLb{178}{1237}{12}{\gPM}\pLb{178}{1252}{12}{\gMM}\pLb{223}{1237}{12}{\gMM}\pLb{223}{1252}{12}{\gMM}
\pNb{68}{1272}{11}{402}\pNb{113}{1272}{11}{440}\pNb{178}{1272}{11}{436}\pNb{223}{1272}{11}{415}
\pLb{41}{1333}{14}{III:1}\pLb{86}{1333}{14}{III:2}\pLb{131}{1333}{14}{III:3}\pLb{180}{1333}{14}{III:4}\pLb{227}{1333}{14}{III:5}
\pLb{41}{1348}{12}{\gMM}\pLb{41}{1364}{12}{\gMM}\pLb{86}{1348}{12}{\gPM}\pLb{86}{1364}{12}{\gPM}
\pLb{131}{1348}{12}{\gPM}\pLb{131}{1364}{12}{\gMM}\pLb{180}{1348}{12}{\gMM}\pLb{180}{1364}{12}{\gMM}
\pLb{227}{1348}{12}{\gPM}\pLb{227}{1364}{12}{\gMM}
\pNb{41}{1388}{11}{413}\pNb{88}{1388}{11}{503}\pNb{130}{1388}{11}{414}\pNb{180}{1388}{11}{400}\pNb{227}{1388}{11}{488}
% ================= Z
\draw[bx] (267,1080) rectangle (462,1403);
\pLt{283}{1103}{29}{Z}
\pGn{310}{1102}{9.2}{11}{KCNQ1/W248F}{KCNQ1/W248F}
\node[sqr=19,ni] (Z1) at (293,1131) {};
\node[cir=19,ni] (Z2) at (333,1131) {};
\coordinate (Zm) at (314,1131);
\node[sqr=19,hL] (Z3) at (387,1131) {};
\node[cir=19,ni] (Z4) at (423,1131) {};
\coordinate (Zn) at (405,1131); \coordinate (Zb) at (405,1200);
\node[sqr=20,hR] (Z5) at (314,1228) {};
\node[cir=20,obC] (Z6) at (381,1228) {};
\node[cir=20,hR] (Z7) at (426,1228) {};
\coordinate (Zo) at (347,1228);
\node[cir=20,cmpd] (Z8) at (347,1329) {};
\draw[lnk] (Z1) -- (Z2); \draw[lnk] (Z3) -- (Z4); \draw[lnk] (Zm) -- (Z5);
\draw[lnk] (Zn) -- (Zb); \draw[lnk] (Z6) -- (Z6|-Zb) -- (Z7|-Zb) -- (Z7);
\draw[lnk] (Z5) -- (Z6); \draw[lnk] (Zo) -- (Z8);
\pArr{Z8}{-44}{-22}{30}{15}
\pNb{363}{1318}{18}{S}
\pLb{297}{1153}{12}{I:1}\pLb{338}{1153}{12}{I:2}\pLb{388}{1153}{12}{I:3}\pLb{426}{1153}{12}{I:4}
\pLb{386}{1166}{10}{\gPM}\pNb{386}{1192}{10}{446}
\pLb{315}{1250}{12}{II:1}\pLb{383}{1250}{12}{II:2}
\pLb{315}{1265}{10}{\gMP}\pLb{383}{1265}{10}{\gPM}\pLb{427}{1265}{10}{\gPM}
\pNb{318}{1297}{10}{360}\pNb{380}{1297}{10}{446}
\pLb{350}{1348}{12}{III:1}\pLb{350}{1363}{10}{\gPP}\pNb{350}{1395}{10}{543}
% ================= AA
\draw[bx] (475,1080) rectangle (930,1403);
\pLt{507}{1102}{30}{AA}
\pGn{542}{1101}{9.2}{11.5}{KCNQ1/D611Y}{KCNH2/G609Y}
\node[sqr=18,ni] (AA1) at (688,1122) {};
\node[cir=18,ni] (AA2) at (731,1122) {};
\coordinate (AAm) at (709,1122); \coordinate (AAb) at (709,1157);
\node[cir=20,hL] (AAa1) at (537,1208) {};
\node[sqr=18,ni] (AAa2) at (579,1208) {};
\node[cir=20,hL] (AAa3) at (637,1208) {};
\node[sqr=18,nn=9] (AAa4) at (677,1208) {N};
\node[sqr=18,ni] (AAa5) at (718,1208) {};
\node[sqr=18,ni] (AAa6) at (745,1208) {};
\node[cir=20,hL] (AAa7) at (780,1208) {};
\node[sqr=18,nn=9] (AAa8) at (819,1208) {N};
\node[cir=20,hL] (AAa9) at (859,1208) {};
\node[sqr=18,ni] (AAa10) at (897,1208) {};
\coordinate (AAc1) at (558,1208); \coordinate (AAc2) at (657,1208);
\coordinate (AAc3) at (800,1208); \coordinate (AAc4) at (878,1208);
\coordinate (AAd1) at (558,1288); \coordinate (AAd2) at (657,1288); \coordinate (AAd3) at (800,1288);
\node[sqr=18,hL] (AAb1) at (526,1315) {};
\node[cir=18,nn=9] (AAb2) at (558,1315) {N};
\node[sqr=18,hL] (AAb3) at (589,1315) {};
\node[cir=18,hL] (AAb4) at (630,1315) {};
\node[sqr=18,hL] (AAb5) at (657,1315) {};
\node[sqr=18,hL] (AAb6) at (689,1315) {};
\node[sqr=18,hL] (AAb7) at (766,1315) {};
\node[sqr=18,cmpd] (AAb8) at (800,1315) {};
\node[sqr=18,nn=9] (AAb9) at (829,1315) {N};
\node[sqr=18,hL] (AAb10) at (878,1315) {};
\draw[lnk] (AA1) -- (AA2); \draw[lnk] (AAm) -- (AAb);
\draw[lnk] (AAa1) -- (AAa1|-AAb) -- (AAa9|-AAb) -- (AAa9);
\draw[lnk] (AAa3) -- (AAa3|-AAb); \draw[lnk] (AAa5) -- (AAa5|-AAb);
\draw[lnk] (AAa6) -- (AAa6|-AAb); \draw[lnk] (AAa7) -- (AAa7|-AAb);
\draw[lnk] (AAa1) -- (AAa2); \draw[lnk] (AAa3) -- (AAa4);
\draw[lnk] (AAa7) -- (AAa8); \draw[lnk] (AAa9) -- (AAa10);
\draw[lnk] (AAc1) -- (AAb2); \draw[lnk] (AAb1) -- (AAb1|-AAd1) -- (AAb3|-AAd1) -- (AAb3);
\draw[lnk] (AAc2) -- (AAb5); \draw[lnk] (AAb4) -- (AAb4|-AAd2) -- (AAb6|-AAd2) -- (AAb6);
\draw[lnk] (AAc3) -- (AAb8); \draw[lnk] (AAb7) -- (AAb7|-AAd3) -- (AAb9|-AAd3) -- (AAb9);
\draw[lnk] (AAc4) -- (AAb10);
\draw[line width=0.9pt] (AAa5) ++(-17,29) -- ++(29,-42);
\draw[line width=0.9pt] (AAa6) ++(-17,29) -- ++(29,-42);
\pArr{AAb8}{-32}{-24}{21}{15}
\pNb{815}{1297}{17}{S}
\pLb{688}{1142}{13}{I:1}\pLb{730}{1142}{13}{I:2}
\pLb{537}{1230}{12}{II:1}\pLb{579}{1230}{12}{II:2}\pLb{638}{1230}{12}{II:3}\pLb{675}{1230}{12}{II:4}
\pLb{712}{1230}{12}{II:5}\pLb{740}{1230}{12}{II:6}\pLb{781}{1230}{12}{II:7}\pLb{817}{1230}{12}{II:8}
\pLb{858}{1230}{12}{II:9}\pLb{892}{1230}{12}{II:10}
\pLb{537}{1245}{10.5}{\gPM}\pLb{537}{1260}{10.5}{\gMM}\pLb{579}{1245}{10.5}{\gMM}\pLb{579}{1260}{10.5}{\gMM}
\pLb{638}{1245}{10.5}{\gPM}\pLb{638}{1260}{10.5}{\gMM}\pLb{677}{1245}{10.5}{\gMM}\pLb{677}{1260}{10.5}{\gMM}
\pLb{780}{1245}{10.5}{\gPM}\pLb{780}{1260}{10.5}{\gMM}\pLb{817}{1245}{10.5}{\gMM}\pLb{817}{1260}{10.5}{\gMM}
\pLb{858}{1245}{10.5}{\gPM}\pLb{858}{1260}{10.5}{\gMM}
\pNb{537}{1275}{10.5}{443}\pNb{638}{1275}{10.5}{412}\pNb{680}{1275}{10.5}{385}
\pNb{778}{1275}{10.5}{411}\pNb{817}{1275}{10.5}{417}\pNb{861}{1275}{10.5}{424}
\pLb{526}{1337}{12}{III:1}\pLb{556}{1337}{12}{III:2}\pLb{589}{1337}{12}{III:3}
\pLb{629}{1337}{12}{III:4}\pLb{657}{1337}{12}{III:5}\pLb{689}{1337}{12}{III:6}
\pLb{766}{1337}{12}{III:7}\pLb{799}{1337}{12}{III:8}\pLb{829}{1337}{12}{III:9}\pLb{874}{1337}{12}{III:10}
\pLb{526}{1353}{10.5}{\gPM}\pLb{526}{1370}{10.5}{\gMM}\pLb{556}{1353}{10.5}{\gMM}\pLb{556}{1370}{10.5}{\gMM}
\pLb{589}{1353}{10.5}{\gPM}\pLb{589}{1370}{10.5}{\gMM}\pLb{629}{1353}{10.5}{\gPM}\pLb{629}{1370}{10.5}{\gMM}
\pLb{657}{1353}{10.5}{\gPM}\pLb{657}{1370}{10.5}{\gMM}\pLb{689}{1353}{10.5}{\gPM}\pLb{689}{1370}{10.5}{\gMM}
\pLb{766}{1353}{10.5}{\gPM}\pLb{766}{1370}{10.5}{\gMM}\pLb{799}{1353}{10.5}{\gPM}\pLb{799}{1370}{10.5}{\gPM}
\pLb{829}{1353}{10.5}{\gMM}\pLb{829}{1370}{10.5}{\gMM}\pLb{874}{1353}{10.5}{\gPM}\pLb{874}{1370}{10.5}{\gMM}
\pNb{526}{1388}{10.5}{463}\pNb{556}{1388}{10.5}{439}\pNb{590}{1388}{10.5}{495}
\pNb{633}{1388}{10.5}{450}\pNb{659}{1388}{10.5}{468}\pNb{692}{1388}{10.5}{461}
\pNb{763}{1388}{10.5}{452}\pNb{796}{1388}{10.5}{638}\pNb{828}{1388}{10.5}{410}
% ================= Legend
\draw[line width=2.5pt] (5,1411) rectangle (929,1642);
\coordinate (lgA) at (52,1423); \coordinate (lgB) at (92,1467);
\draw[line width=3.5pt, -{Triangle[length=15pt,width=16pt]}] (lgA) -- (lgB);
\pLg{113}{1455}{proband}
\node[sqr=27,ni] (LS1) at (41,1493) {}; \node[cir=28,ni] (LC1) at (83,1493) {};
\pLg{107}{1492}{not investigated}
\node[sqr=26,sdeathb] (LS2) at (41,1537) {}; \node[cir=27,sdeathb] (LC2) at (84,1537) {};
\draw[line width=0.9pt] (LS2) ++(-23,20) -- ++(42,-38);
\draw[line width=0.9pt] (LC2) ++(-24,20) -- ++(44,-38);
\pLg{110}{1540}{sudden death}
\node[sqr=25,nn=17] (LS3) at (41,1580) {N}; \node[cir=27,nn=17] (LC3) at (84,1580) {N};
\pLg{107}{1579}{mutation absent, clinically\enspace unaffected}
\node[sqr=28,cmpd] (LS4) at (41,1621) {}; \node[cir=28,cmpd] (LC4) at (83,1621) {};
\pLg{107}{1620}{compound mutation}
\node[sqr=26,obSb] (RS1) at (536,1468) {}; \node[cir=28,obCb] (RC1) at (576,1468) {};
\pLg{600}{1467}{obligate carrier}
\node[sqr=26,hL] (RS2) at (536,1503) {}; \node[cir=28,hL] (RC2) at (576,1503) {};
\pLg{600}{1502}{heterozygous mutation}
\node[sqr=26,lqt] (RS3) at (536,1540) {}; \node[cir=28,lqt] (RC3) at (576,1540) {};
\pLg{600}{1538}{mutation unknown, clinically\enspace LQTS}
\node[sqr=26,dbl] (RS4) at (536,1580) {}; \node[cir=28,dbl] (RC4) at (576,1580) {};
\pLg{600}{1578}{mutation unknown, clinically\enspace normal}
\pNb{532}{1622}{24}{S}
\pLg{600}{1623}{symptomatic patients}
\end{tikzpicture}
\end{document}
